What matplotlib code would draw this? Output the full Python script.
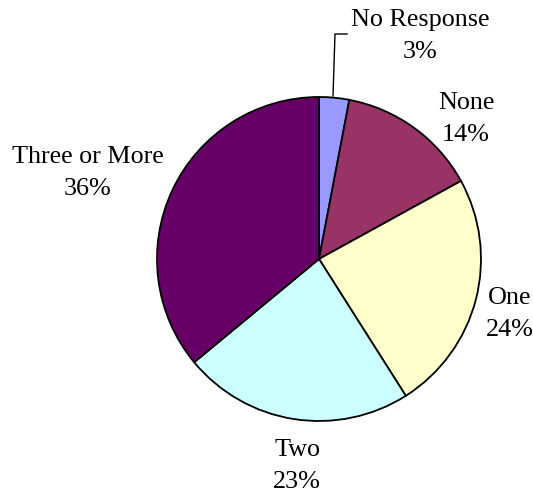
import matplotlib
matplotlib.use("Agg")
import matplotlib.pyplot as plt

categories = ["No Response", "None", "One", "Two", "Three or More"]
values = [3, 14, 24, 23, 36]
colors = ["#9999FF", "#993366", "#FFFFCC", "#CCFFFF", "#660066"]
label_pos = [(420, 20), (466, 103), (510, 298), (297, 450), (88, 157)]

W, H = 533, 502
fig = plt.figure(figsize=(W / 100, H / 100), dpi=100)
ax = fig.add_axes([0, 0, 1, 1])

cx, cy, r = 319, -260, 162
ax.pie(values, colors=colors, startangle=90, counterclock=False,
       center=(cx, cy), radius=r, frame=True,
       wedgeprops=dict(edgecolor="black", linewidth=1.3))
ax.set_xlim(0, W)
ax.set_ylim(-H, 0)
ax.set_aspect("equal")
ax.axis("off")

font = dict(family="Liberation Serif", fontsize=18.8, ha="center", va="center")
for cat, v, (x, y) in zip(categories, values, label_pos):
    ax.text(x, -y, cat, **font)
    ax.text(x, -(y + 32), f"{v}%", **font)

# leader line for No Response
ax.plot([333, 335, 347], [-97, -35, -35], color="black", linewidth=1)

fig.savefig("out.png", dpi=100)
